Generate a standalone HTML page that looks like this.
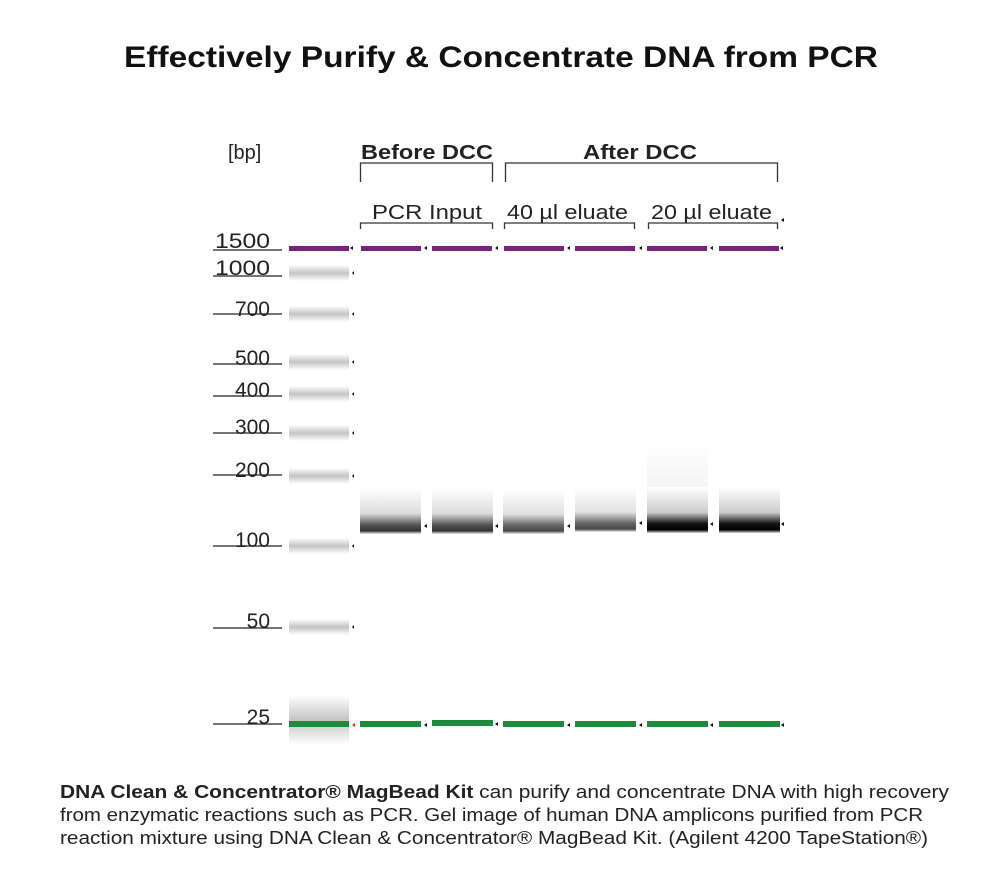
<!DOCTYPE html>
<html><head><meta charset="utf-8"><style>
html,body{margin:0;padding:0;background:#fff}
svg{display:block}
text{font-family:"Liberation Sans",sans-serif}
</style></head><body>
<svg width="1000" height="875" viewBox="0 0 1000 875">
<defs>
<linearGradient id="lad" x1="0" y1="0" x2="0" y2="1">
<stop offset="0" stop-color="#fff"/><stop offset="0.5" stop-color="#c4c4c4"/><stop offset="1" stop-color="#fff"/></linearGradient>
<linearGradient id="dna" x1="0" y1="0" x2="0" y2="1">
<stop offset="0" stop-color="#fff"/><stop offset="0.55" stop-color="#ddd"/><stop offset="0.8" stop-color="#555"/><stop offset="0.93" stop-color="#333"/><stop offset="1" stop-color="#eee"/></linearGradient>
<linearGradient id="dnak" x1="0" y1="0" x2="0" y2="1">
<stop offset="0" stop-color="#fff"/><stop offset="0.55" stop-color="#ccc"/><stop offset="0.8" stop-color="#111"/><stop offset="0.93" stop-color="#000"/><stop offset="1" stop-color="#ddd"/></linearGradient>
<linearGradient id="glow" x1="0" y1="0" x2="0" y2="1">
<stop offset="0" stop-color="#fff"/><stop offset="1" stop-color="#f4f4f4"/></linearGradient>
</defs>
<text x="501" y="67" text-anchor="middle" font-size="30" font-weight="bold" fill="#111" textLength="754" lengthAdjust="spacingAndGlyphs">Effectively Purify &amp; Concentrate DNA from PCR</text>

<g fill="#222" font-size="20">
<text x="228" y="159">[bp]</text>
<text x="361" y="159" font-weight="bold" textLength="132" lengthAdjust="spacingAndGlyphs">Before DCC</text>
<text x="583" y="159" font-weight="bold" textLength="114" lengthAdjust="spacingAndGlyphs">After DCC</text>
<text x="372" y="219" textLength="110" lengthAdjust="spacingAndGlyphs">PCR Input</text>
<text x="507" y="219" textLength="121" lengthAdjust="spacingAndGlyphs">40 µl eluate</text>
<text x="651" y="219" textLength="121" lengthAdjust="spacingAndGlyphs">20 µl eluate</text>
</g>
<g stroke="#333" stroke-width="1.3" fill="none">
<path d="M360.5 182 V163 H492.5 V182"/>
<path d="M505.5 182 V163 H777.5 V182"/>
<path d="M360.5 229 V223 H492.5 V229"/>
<path d="M504.5 229 V223 H634.5 V229"/>
<path d="M648.5 229 V223 H777.5 V229"/>
</g>
<g fill="#222" font-size="21" text-anchor="end">
<text x="270" y="248" textLength="55" lengthAdjust="spacingAndGlyphs">1500</text><text x="270" y="275" textLength="55" lengthAdjust="spacingAndGlyphs">1000</text>
<text x="270" y="316">700</text><text x="270" y="365">500</text>
<text x="270" y="397">400</text><text x="270" y="434">300</text>
<text x="270" y="477">200</text><text x="270" y="547">100</text>
<text x="270" y="628">50</text><text x="270" y="724">25</text>
</g>
<g stroke="#222" stroke-width="1.2">
<path d="M213 250H282M213 276H282M213 314H282M213 364H282M213 396H282M213 433H282M213 475H282M213 546H282M213 628H282M213 724H282"/>
</g>
<g fill="url(#lad)">
<rect x="289" y="265" width="60" height="16"/>
<rect x="289" y="306" width="60" height="16"/>
<rect x="289" y="354" width="60" height="16"/>
<rect x="289" y="386" width="60" height="16"/>
<rect x="289" y="425" width="60" height="16"/>
<rect x="289" y="468" width="60" height="16"/>
<rect x="289" y="538" width="60" height="16"/>
<rect x="289" y="619" width="60" height="16"/>
<rect x="289" y="695" width="60" height="50"/>
</g>
<g fill="#7c2180">
<rect x="289" y="246" width="60" height="5"/>
<rect x="361" y="246" width="60" height="5"/>
<rect x="432" y="246" width="60" height="5"/>
<rect x="504" y="246" width="60" height="5"/>
<rect x="575" y="246" width="60" height="5"/>
<rect x="647" y="246" width="60" height="5"/>
<rect x="719" y="246" width="60" height="5"/>
</g>
<g>
<rect x="360" y="488" width="61" height="46" fill="url(#dna)"/>
<rect x="432" y="488" width="61" height="46" fill="url(#dna)"/>
<rect x="503" y="490" width="61" height="44" fill="url(#dna)" opacity="0.9"/>
<rect x="575" y="488" width="61" height="44" fill="url(#dna)" opacity="0.9"/>
<rect x="647" y="440" width="61" height="50" fill="url(#glow)"/>
<rect x="647" y="487" width="61" height="46" fill="url(#dnak)"/>
<rect x="719" y="487" width="61" height="46" fill="url(#dnak)"/>
</g>
<g fill="#1e8a3c">
<rect x="289" y="721" width="60" height="6"/>
<rect x="360" y="721" width="61" height="6"/>
<rect x="432" y="720" width="61" height="6"/>
<rect x="503" y="721" width="61" height="6"/>
<rect x="575" y="721" width="61" height="6"/>
<rect x="647" y="721" width="61" height="6"/>
<rect x="719" y="721" width="61" height="6"/>
</g>
<g fill="#111">
<path d="M350 248l3-2v4z M424 248l3-2v4z M495 248l3-2v4z M567 248l3-2v4z M639 248l3-2v4z M710 248l3-2v4z M780 248l3-2v4z"/>
<path d="M352 273l2-2v4z M352 314l2-2v4z M352 362l2-2v4z M352 394l2-2v4z M352 433l2-2v4z M352 476l2-2v4z M352 546l2-2v4z M352 627l2-2v4z"/>
<path d="M424 526l3-2v4z M495 526l3-2v4z M567 526l3-2v4z M639 523l3-2v4z M710 524l3-2v4z M781 524l3-2v4z"/>
<path d="M424 725l3-2v4z M495 724l3-2v4z M567 725l3-2v4z M639 725l3-2v4z M710 725l3-2v4z M781 725l3-2v4z M781 220l3-2v4z"/>
</g>
<path d="M352 725l3-2v4z" fill="#d22"/>

<g fill="#222" font-size="18">
<text x="60" y="798" textLength="889" lengthAdjust="spacingAndGlyphs"><tspan font-weight="bold">DNA Clean &amp; Concentrator® MagBead Kit</tspan> can purify and concentrate DNA with high recovery</text>
<text x="60" y="821" textLength="863" lengthAdjust="spacingAndGlyphs">from enzymatic reactions such as PCR. Gel image of human DNA amplicons purified from PCR</text>
<text x="60" y="844" textLength="868" lengthAdjust="spacingAndGlyphs">reaction mixture using DNA Clean &amp; Concentrator® MagBead Kit. (Agilent 4200 TapeStation®)</text>
</g>
</svg>
</body></html>
